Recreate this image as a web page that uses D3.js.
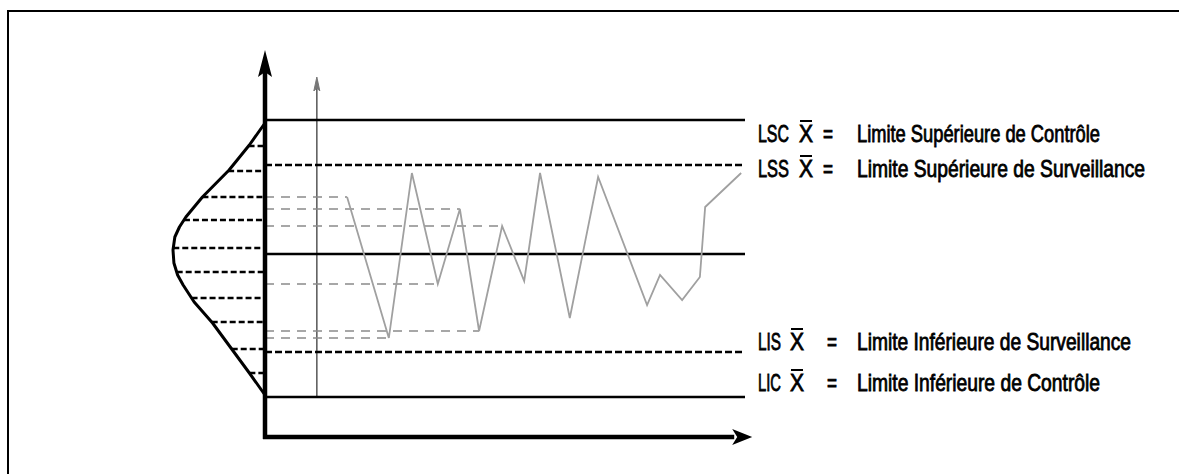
<!DOCTYPE html>
<html>
<head>
<meta charset="utf-8">
<script src="https://cdn.jsdelivr.net/npm/d3@7"></script>
<style>
html,body{margin:0;padding:0;background:#fff;}
svg{display:block;}
</style>
</head>
<body>
<svg id="chart" width="1179" height="474"></svg>
<script>
// ---- data ----
const limitNames  = ["LSC", "LSS", "Moyenne", "LIS", "LIC"];
const limitValues = [79.25, 68, 45.75, 21.25, 10];

const seriesX = [17.1, 25.8, 30.6, 36, 40.6, 44.6, 49.4, 54, 57.3, 63.5, 69.4, 79.6, 82.3, 86.9, 90.6, 91.7, 99.2];
const seriesY = [60, 24.75, 66, 38.25, 57, 26.5, 52.75, 39, 66, 29.75, 65, 33, 40.5, 34.25, 40, 57.5, 66];

// points of the series projected back onto the vertical axis
const projectedIdx = [0, 4, 6, 3, 5, 1];

// bell curve (distribution) drawn along the vertical axis
const bellValues  = [78.5, 73, 66.75, 60, 55, 52.5, 50, 46.75, 43.5, 40.5, 38, 33.75, 28.5, 22.25, 16, 10.5];
const bellDensity = [0, 0.17, 0.39, 0.68, 0.86, 0.93, 0.98, 1.0, 0.99, 0.95, 0.89, 0.77, 0.57, 0.37, 0.17, 0];
const bellLevels  = [72.75, 66.5, 60, 54.25, 47.25, 41.25, 34.75, 28.75, 22, 16];

const labelAbbr = ["LSC", "LSS", "LIS", "LIC"];
const labelDesc = ["Limite Supérieure de Contrôle", "Limite Supérieure de Surveillance",
                   "Limite Inférieure de Surveillance", "Limite Inférieure de Contrôle"];

const sampleAxisX = 10.8;   // secondary (time) axis
const yAxisTop = 96.75, xAxisEnd = 101.5, sampleAxisTop = 90;

// ---- scales ----
const x = d3.scaleLinear().domain([0, 100]).range([265, 745]);
const y = d3.scaleLinear().domain([0, 100]).range([437, 37]);
const dens = d3.scaleLinear().domain([0, 1]).range([265, 173]);
const bellAt = d3.scaleLinear().domain(bellValues).range(bellDensity);

const svg = d3.select("#chart");

// frame
svg.append("path").attr("d", "M8,474 V11 H1179")
  .attr("fill", "none").attr("stroke", "#000").attr("stroke-width", 2);

// thin sample axis
svg.append("line")
  .attr("x1", x(sampleAxisX)).attr("x2", x(sampleAxisX))
  .attr("y1", y(limitValues[4])).attr("y2", y(sampleAxisTop) + 4)
  .attr("stroke", "#555").attr("stroke-width", 1.5);
svg.append("path")
  .attr("d", `M${x(sampleAxisX)},${y(sampleAxisTop)} l-3,14 l3,-3 l3,3 z`)
  .attr("fill", "#777").attr("stroke", "#777").attr("stroke-width", 1);

// projection dashed lines (light)
svg.append("g").selectAll("line").data(projectedIdx).join("line")
  .attr("x1", x(0)).attr("x2", i => x(seriesX[i]))
  .attr("y1", i => y(seriesY[i])).attr("y2", i => y(seriesY[i]))
  .attr("stroke", "#8a8a8a").attr("stroke-width", 1.6)
  .attr("stroke-dasharray", "9,7");

// limit lines
svg.append("g").selectAll("line").data(limitNames).join("line")
  .attr("x1", x(0)).attr("x2", x(100))
  .attr("y1", (d, i) => y(limitValues[i])).attr("y2", (d, i) => y(limitValues[i]))
  .attr("stroke", "#000")
  .attr("stroke-width", d => (d === "LSS" || d === "LIS") ? 2.5 : 2.6)
  .attr("stroke-dasharray", d => (d === "LSS" || d === "LIS") ? "7,3" : null);

// bell dashed levels
svg.append("g").selectAll("line").data(bellLevels).join("line")
  .attr("x1", v => dens(bellAt(v))).attr("x2", x(0))
  .attr("y1", v => y(v)).attr("y2", v => y(v))
  .attr("stroke", "#000").attr("stroke-width", 2.4)
  .attr("stroke-dasharray", "6,3");

// bell curve
const bellPts = bellValues.map((v, i) => [dens(bellDensity[i]), y(v)]);
svg.append("path")
  .attr("d", d3.line()(bellPts))
  .attr("fill", "none").attr("stroke", "#000").attr("stroke-width", 3)
  .attr("stroke-linejoin", "round");

// series
const pts = seriesX.map((d, i) => [x(d), y(seriesY[i])]);
svg.append("path")
  .attr("d", d3.line()(pts))
  .attr("fill", "none").attr("stroke", "#a0a0a0").attr("stroke-width", 1.8)
  .attr("stroke-linejoin", "miter");

// main axes
svg.append("line")
  .attr("x1", x(0)).attr("x2", x(0)).attr("y1", y(0) + 2).attr("y2", y(yAxisTop) + 20)
  .attr("stroke", "#000").attr("stroke-width", 4.5);
svg.append("path")
  .attr("d", `M${x(0)},${y(yAxisTop)} L${x(0) - 7},${y(yAxisTop) + 27} L${x(0)},${y(yAxisTop) + 22} L${x(0) + 7},${y(yAxisTop) + 27} Z`)
  .attr("fill", "#000");
svg.append("line")
  .attr("x1", x(0) - 2).attr("x2", x(xAxisEnd) - 18).attr("y1", y(0)).attr("y2", y(0))
  .attr("stroke", "#000").attr("stroke-width", 4.5);
svg.append("path")
  .attr("d", `M${x(xAxisEnd)},${y(0)} L${x(xAxisEnd) - 20},${y(0) - 8} L${x(xAxisEnd) - 15},${y(0)} L${x(xAxisEnd) - 20},${y(0) + 8} Z`)
  .attr("fill", "#000");

// labels (condensed look: smaller font stretched vertically)
const labelBase = [142, 177, 350, 391];
const abbrW = [31, 31, 23, 23];
const xPos  = [799, 799, 790, 790];
const descW = [243, 288, 274, 243];
const lab = svg.append("g").attr("font-family", "Liberation Sans, Arial, sans-serif")
  .attr("font-size", 20).attr("fill", "#000").attr("stroke", "#000").attr("stroke-width", 0.7);
function addText(tx, ty, str, w) {
  lab.append("text").attr("transform", `translate(${tx},${ty}) scale(1,1.2)`)
    .text(str).attr("textLength", w).attr("lengthAdjust", "spacingAndGlyphs");
}
labelAbbr.forEach((a, i) => {
  const by = labelBase[i];
  addText(758, by, a, abbrW[i]);
  addText(xPos[i], by, "X", 14);
  lab.append("line").attr("x1", xPos[i] + 1).attr("x2", xPos[i] + 13)
    .attr("y1", by - 21).attr("y2", by - 21).attr("stroke-width", 2);
  addText(i < 2 ? 823 : 827, by, "=", 10);
  addText(857, by, labelDesc[i], descW[i]);
});
</script>
</body>
</html>
